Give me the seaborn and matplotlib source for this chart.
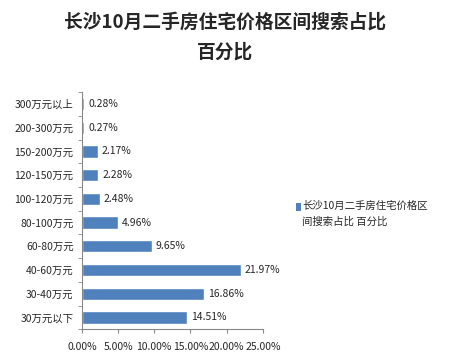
import matplotlib
matplotlib.use("Agg")
import matplotlib.pyplot as plt
import seaborn as sns
import pandas as pd
import numpy as np
from matplotlib.ticker import FixedLocator
from matplotlib.patches import Rectangle

categories = ["300万元以上", "200-300万元", "150-200万元", "120-150万元", "100-120万元",
              "80-100万元", "60-80万元", "40-60万元", "30-40万元", "30万元以下"]
values = [0.28, 0.27, 2.17, 2.28, 2.48, 4.96, 9.65, 21.97, 16.86, 14.51]
xticks = [0, 5, 10, 15, 20, 25]
title = "长沙10月二手房住宅价格区间搜索占比\n百分比"
legend_label = "长沙10月二手房住宅价格区\n间搜索占比 百分比"

sns.set_style("white")
plt.rcParams['font.family'] = ['Noto Sans CJK SC', 'DejaVu Sans']

df = pd.DataFrame({"cat": categories, "val": values})
fig = plt.figure(figsize=(4.5, 3.59), dpi=100)
ax = fig.add_axes([0.182, 0.083, 0.402, 0.66])
sns.barplot(data=df, x="val", y="cat", order=categories, color="#4F81BD",
            width=0.52, ax=ax, saturation=1)
ax.set_xlim(0, 25)
ax.set_ylim(len(categories) - 0.5, -0.5)
ax.set_xticks(xticks)
ax.set_xticklabels([f"{t:.2f}%" for t in xticks], fontsize=7.5)
ax.set_yticklabels(categories, fontsize=7.5)
ax.set_xlabel("")
ax.set_ylabel("")
for s in ["top", "right"]:
    ax.spines[s].set_visible(False)
for s in ["left", "bottom"]:
    ax.spines[s].set_color("#888888")
    ax.spines[s].set_linewidth(0.8)
ax.yaxis.set_minor_locator(FixedLocator(np.arange(-0.5, len(categories), 1)))
ax.tick_params(axis="y", which="major", length=0, pad=6)
ax.tick_params(axis="y", which="minor", length=3, color="#888888", direction="out", left=True)
ax.tick_params(axis="x", which="major", length=3, color="#888888", direction="out", bottom=True, pad=6)

for c in ax.containers:
    ax.bar_label(c, labels=[f"{v:.2f}%" for v in values], padding=3, fontsize=7.5)

fig.suptitle(title, fontsize=13.5, fontweight="bold", y=0.965, linespacing=1.75)

fig.patches.append(Rectangle((0.658, 0.412), 0.011, 0.022, transform=fig.transFigure,
                             facecolor="#4F81BD", edgecolor="none"))
fig.text(0.672, 0.405, legend_label, fontsize=7.5, va="center", ha="left", linespacing=1.7)

fig.savefig("out.png", dpi=100)
